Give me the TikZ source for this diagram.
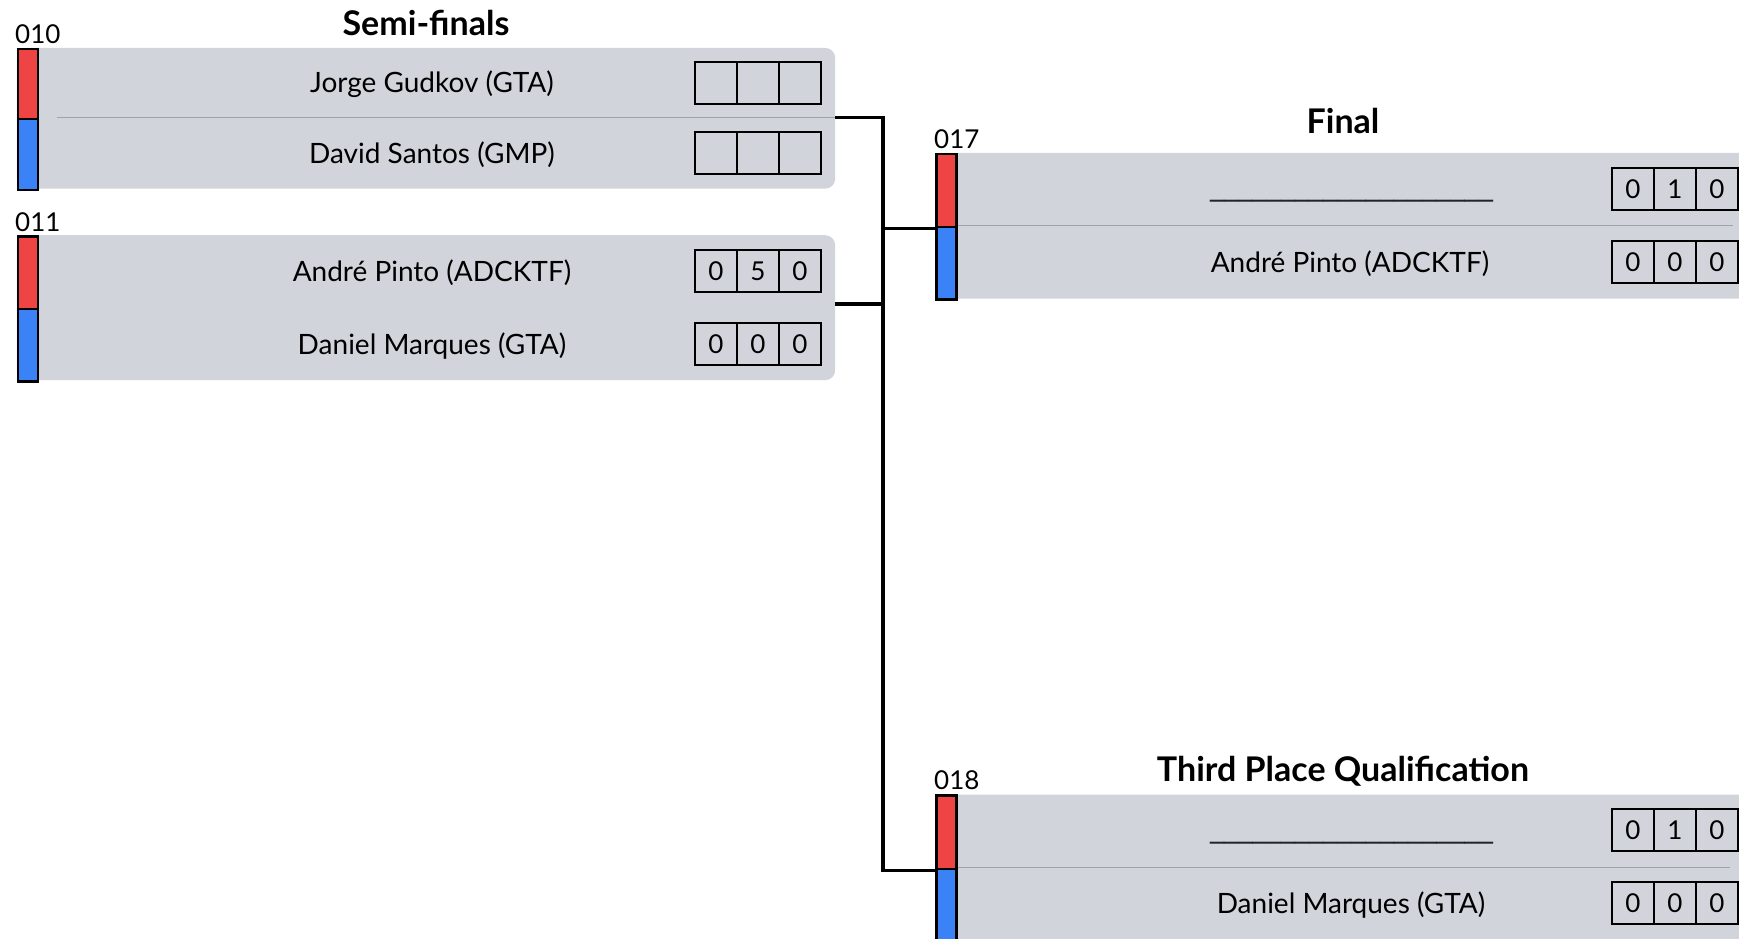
\documentclass[tikz,border=0pt]{standalone}
\usepackage{fontspec}
\setmainfont{Lato}
\newfontfamily\ulfont{DejaVu Sans}
\definecolor{boxgray}{HTML}{D1D5DB}
\definecolor{sepgray}{HTML}{A1A1AA}
\definecolor{redbar}{HTML}{EF4444}
\definecolor{bluebar}{HTML}{3B82F6}
\definecolor{ulcol}{HTML}{222428}
\tikzset{
  panel/.style={fill=boxgray, rounded corners=10pt, inner sep=0pt, anchor=north west},
  redseg/.style={fill=redbar, draw=black, line width=2.5pt},
  blueseg/.style={fill=bluebar, draw=black, line width=2.5pt},
  sepline/.style={draw=sepgray, line width=1.2pt},
  cell/.style={draw=black, line width=2pt, minimum width=42pt, minimum height=42pt, inner sep=0pt, font=\fontsize{26}{26}\selectfont},
  pname/.style={font=\fontsize{28}{30}\selectfont, anchor=base, inner sep=0pt},
  blank/.style={font=\ulfont\fontsize{28.3}{30}\selectfont, text=ulcol, anchor=base, inner sep=0pt},
  ttl/.style={font=\fontsize{34}{36}\selectfont\bfseries, anchor=base, inner sep=0pt},
  mid/.style={font=\fontsize{26}{28}\selectfont, anchor=base west, inner sep=0pt},
  conn/.style={draw=black, line width=3.3pt},
}
\newcommand{\scorerow}[6]{%
  \node[cell] (#1a) at (#2+21,#3) {#4};
  \node[cell] (#1b) at (#2+63,#3) {#5};
  \node[cell] (#1c) at (#2+105,#3) {#6};
}
\begin{document}
\begin{tikzpicture}[x=1pt,y=-1pt]
\clip (0,0) rectangle (1739,939);
\fill[white] (0,0) rectangle (1739,939);

% ---------- Semi-finals ----------
\node[ttl] (tsemi) at (426,35.5) {Semi-finals};
\node[mid] (id010) at (15,44) {010};
\node[panel, minimum width=818.4pt, minimum height=140.8pt] (sf1) at (16.6,47.7) {};
\draw[sepline] (57,117.7) -- (835,117.7);
\node[name=b1r, redseg, inner sep=0pt, minimum width=20pt, minimum height=70pt, anchor=north west] at (16.6,47.7) {};
\node[name=b1b, blueseg, inner sep=0pt, minimum width=20pt, minimum height=70.8pt, anchor=north west] at (16.6,117.7) {};
\node[pname] (n1) at (432,92.7) {Jorge Gudkov (GTA)};
\node[pname] (n2) at (432,163.2) {David Santos (GMP)};
\scorerow{s1r1}{695}{82.7}{}{}{}
\scorerow{s1r2}{695}{153.2}{}{}{}

\node[mid] (id011) at (15,231) {011};
\node[panel, minimum width=818.4pt, minimum height=145pt] (sf2) at (16.6,235) {};
\node[name=b2r, redseg, inner sep=0pt, minimum width=20pt, minimum height=72.5pt, anchor=north west] at (16.6,235) {};
\node[name=b2b, blueseg, inner sep=0pt, minimum width=20pt, minimum height=72.5pt, anchor=north west] at (16.6,307.5) {};
\node[pname] (n3) at (432,281.3) {André Pinto (ADCKTF)};
\node[pname] (n4) at (432,354.2) {Daniel Marques (GTA)};
\scorerow{s2r1}{695}{271.3}{0}{5}{0}
\scorerow{s2r2}{695}{344.2}{0}{0}{0}

% ---------- Final ----------
\node[ttl] (tfinal) at (1343,134) {Final};
\node[mid] (id017) at (934,148) {017};
\node[panel, minimum width=818pt, minimum height=145.6pt] (fin) at (935,152.7) {};
\draw[sepline] (955,225.7) -- (1733,225.7);
\node[name=b3r, redseg, inner sep=0pt, minimum width=20pt, minimum height=73pt, anchor=north west] at (935,152.7) {};
\node[name=b3b, blueseg, inner sep=0pt, minimum width=20pt, minimum height=72.6pt, anchor=north west] at (935,225.7) {};
\node[blank] (n5) at (1351.5,195) {\_\_\_\_\_\_\_\_\_\_\_\_\_\_\_\_\_\_\_\_};
\node[pname] (n6) at (1350,272) {André Pinto (ADCKTF)};
\scorerow{s3r1}{1612}{189}{0}{1}{0}
\scorerow{s3r2}{1612}{262}{0}{0}{0}

% ---------- Third place ----------
\node[ttl] (tthird) at (1343,781.7) {Third Place Qualification};
\node[mid] (id018) at (934,789) {018};
\node[panel, minimum width=818pt, minimum height=160pt] (thr) at (935,794.3) {};
\draw[sepline] (955,867.7) -- (1730,867.7);
\node[name=b4r, redseg, inner sep=0pt, minimum width=20pt, minimum height=73.4pt, anchor=north west] at (935,794.3) {};
\node[name=b4b, blueseg, inner sep=0pt, minimum width=20pt, minimum height=80pt, anchor=north west] at (935,867.7) {};
\node[blank] (n7) at (1351.5,837) {\_\_\_\_\_\_\_\_\_\_\_\_\_\_\_\_\_\_\_\_};
\node[pname] (n8) at (1351,913.5) {Daniel Marques (GTA)};
\scorerow{s4r1}{1612}{830}{0}{1}{0}
\scorerow{s4r2}{1612}{903.3}{0}{0}{0}

% ---------- Connectors ----------
\coordinate (jx) at (883,0);
\coordinate (c1) at ([yshift=0.8pt]sf1.east);
\coordinate (c2) at ([yshift=3.8pt]sf2.east);
\coordinate (c3) at (b3r.south west);
\coordinate (c4) at (b4r.south west);
\draw[conn] (c1) -- (c1 -| jx) -- (c4 -| jx) -- (c4);
\draw[conn] (c2) -- (c2 -| jx);
\draw[conn] (c3 -| jx) -- (c3);
\end{tikzpicture}
\end{document}
